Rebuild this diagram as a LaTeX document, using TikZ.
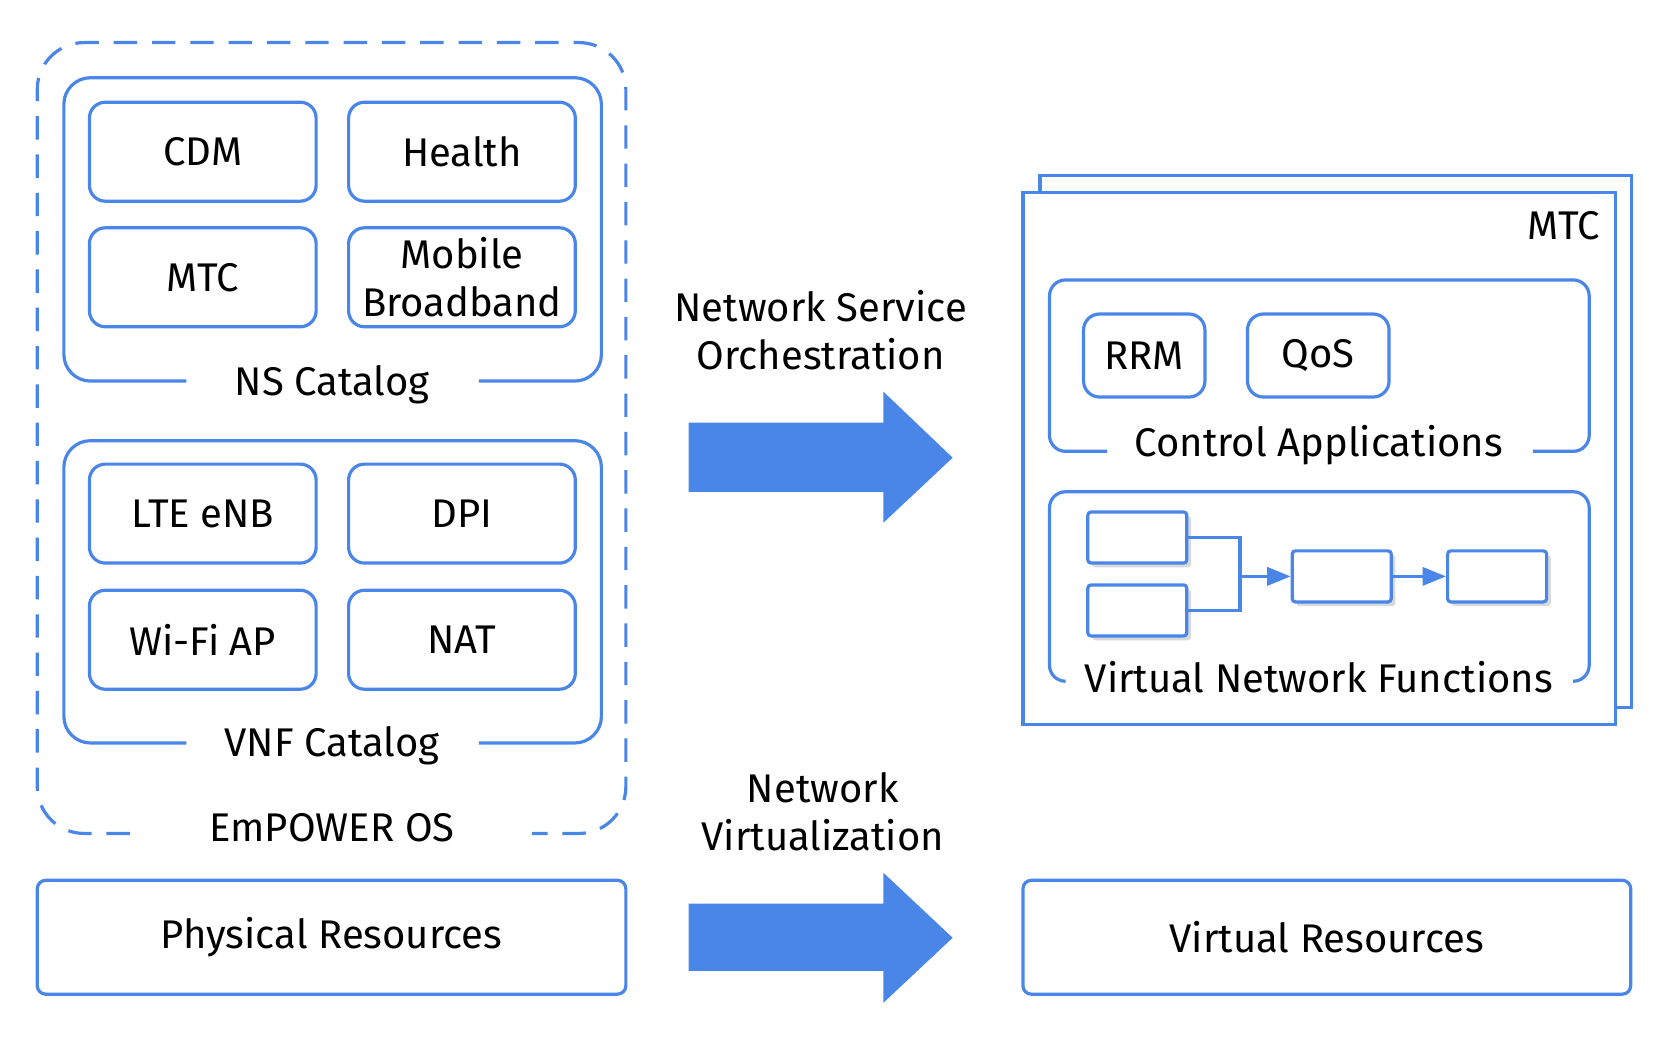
\documentclass[tikz,border=0pt]{standalone}
\usepackage{fontspec}
\setmainfont{Fira Sans}
\usetikzlibrary{arrows.meta,shadows}
\definecolor{eblue}{HTML}{4A86E8}
\begin{document}
\begin{tikzpicture}[x=0.5pt,y=-0.5pt,
  every node/.style={font=\fontsize{18.8}{22.5}\selectfont, text=black},
  frame/.style={draw=eblue, line width=1.5pt},
  appbox/.style={frame, rounded corners=7.5pt, minimum width=106.5pt, minimum height=46.5pt, align=center, inner sep=0pt},
  smallbox/.style={frame, rounded corners=7.5pt, minimum height=39pt, inner sep=0pt},
  resbox/.style={frame, rounded corners=4pt, minimum height=53.5pt, inner sep=0pt},
  vnfbox/.style={draw=eblue, line width=1.5pt, fill=white, rounded corners=1.5pt, minimum width=46.5pt, minimum height=24pt, inner sep=0pt,
     drop shadow={shadow xshift=2pt, shadow yshift=-2pt, fill=black!15, opacity=1}},
  bigarrow/.style={fill=eblue, draw=none},
  link/.style={draw=eblue, line width=1.5pt},
  tip/.style={-{Triangle[length=11pt,width=8.5pt]}}
]
\useasboundingbox (0,0) rectangle (1568,982);

% EmPOWER OS dashed frame
\draw[frame, rounded corners=22pt, dash pattern=on 11pt off 7pt]
  (122,783) -- (35,783) -- (35,40) -- (588,40) -- (588,783) -- (500,783);
\node (empower) at (312,778) {EmPOWER OS};

% NS Catalog
\draw[frame, rounded corners=12.5pt]
  (175,358) -- (60,358) -- (60,73) -- (565,73) -- (565,358) -- (450,358);
\node (nscat) at (312,361) {NS Catalog};
\node[appbox] (cdm) at (190.5,142.5) {CDM};
\node[appbox] (health) at (434,142.5) {Health};
\node[appbox] (mtcapp) at (190.5,260.5) {MTC};
\node[appbox] (mbb) at (434,260.5) {Mobile\\Broadband};

% VNF Catalog
\draw[frame, rounded corners=12.5pt]
  (175,698) -- (60,698) -- (60,414) -- (565,414) -- (565,698) -- (450,698);
\node (vnfcat) at (312,701) {VNF Catalog};
\node[appbox] (lte) at (190.5,482.5) {LTE eNB};
\node[appbox] (dpi) at (434,482.5) {DPI};
\node[appbox] (wifi) at (190.5,601) {Wi-Fi AP};
\node[appbox] (nat) at (434,601) {NAT};

% Physical / Virtual resources
\node[resbox, minimum width=276.5pt] (phys) at (311.5,880.5) {Physical Resources};
\node[resbox, minimum width=285.5pt] (virt) at (1246.5,880.5) {Virtual Resources};

% Big arrows
\fill[bigarrow] (647,397) -- (830,397) -- (830,368) -- (895,430) -- (830,491) -- (830,462) -- (647,462) -- cycle;
\node[align=center] (nso) at (771,310.5) {Network Service\\Orchestration};
\fill[bigarrow] (647,849) -- (830,849) -- (830,820) -- (895,881) -- (830,942) -- (830,912) -- (647,912) -- cycle;
\node[align=center] (nv) at (773,762.5) {Network\\Virtualization};

% MTC slice (stacked)
\draw[frame, fill=white] (977,165) rectangle (1533,665);
\draw[frame, fill=white] (961,181) rectangle (1518,681);
\node[anchor=east] (mtcslice) at (1510,212) {MTC};

% Control applications
\draw[frame, rounded corners=7.5pt]
  (1040,424) -- (986,424) -- (986,263) -- (1493,263) -- (1493,424) -- (1440,424);
\node (ctrl) at (1239,418) {Control Applications};
\node[smallbox, minimum width=57pt] (rrm) at (1075,334) {RRM};
\node[smallbox, minimum width=66.5pt] (qos) at (1238.5,334) {QoS};

% Virtual network functions
\draw[frame, rounded corners=7.5pt]
  (1000,640) -- (986,640) -- (986,462) -- (1493,462) -- (1493,640) -- (1479,640);
\node (vnfs) at (1239,636) {Virtual Network Functions};
\node[vnfbox] (va) at (1068.5,505) {};
\node[vnfbox] (vb) at (1068.5,573.5) {};
\node[vnfbox] (vc) at (1260.5,541.5) {};
\node[vnfbox] (vd) at (1406.5,541.5) {};
\coordinate (j) at (1165,541.5);
\draw[link] (va.east) -| (j);
\draw[link] (vb.east) -| (j);
\draw[link, tip] (j) -- (vc.west);
\draw[link, tip] (vc.east) -- (vd.west);
\end{tikzpicture}
\end{document}
